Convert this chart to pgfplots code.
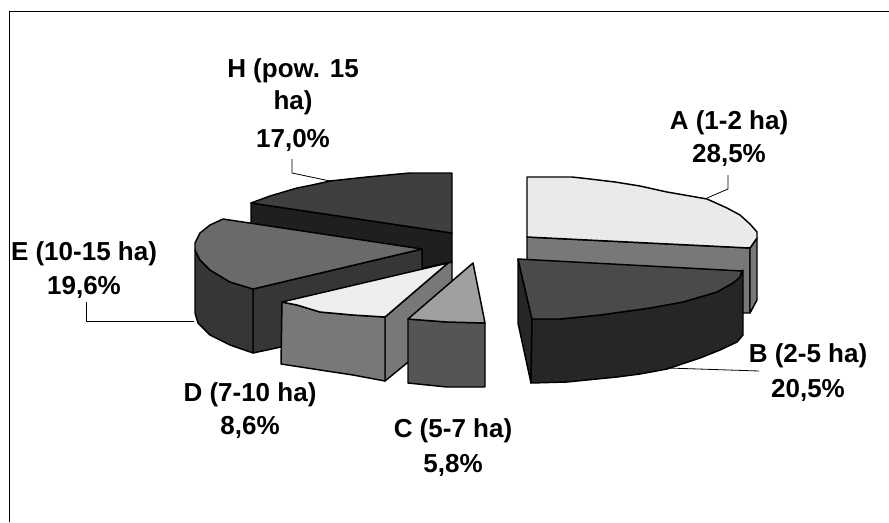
\documentclass[border=0pt]{standalone}
\usepackage{fontspec}
\setmainfont{Liberation Sans}
\usepackage{pgfplots}
\pgfplotsset{compat=1.18}

\definecolor{aTop}{HTML}{EAEAEA}
\definecolor{aSide}{HTML}{787878}
\definecolor{bTop}{HTML}{4A4A4A}
\definecolor{bSide}{HTML}{262626}
\definecolor{cTop}{HTML}{A0A0A0}
\definecolor{cSide}{HTML}{555555}
\definecolor{dTop}{HTML}{EEEEEE}
\definecolor{dSide}{HTML}{787878}
\definecolor{eTop}{HTML}{6A6A6A}
\definecolor{eSide}{HTML}{363636}
\definecolor{hTop}{HTML}{3F3F3F}
\definecolor{hSide}{HTML}{1F1F1F}

\begin{document}
\begin{tikzpicture}[
	lab/.style={font=\fontsize{19.5}{23}\selectfont\bfseries, inner sep=0pt, anchor=center},
]
	\begin{axis}[
	scale only axis,
	width=666.75pt, height=391.5pt,
	xmin=0, xmax=889,
	ymin=0, ymax=522,
	y dir=reverse,
	hide axis,
	clip=false,
	every axis plot/.append style={draw=black, line width=1.1pt, line join=round},
	]
	\path[use as bounding box] (axis cs:0,0) rectangle (axis cs:889,522);

	% frame, open on the right and at the bottom
	\addplot[line width=1.3pt, line cap=butt] coordinates {(9.5,522)(9.5,11.5)(889,11.5)};

	% H
	\addplot[fill=hSide] coordinates {(251,203)(452,233)(452,262)(423,268)(251,268)} --cycle;
	\addplot[fill=hTop] coordinates {(452,173)(410,173)(388,175)(367,177)(330,181)(312,185)(297,188)(270,196)(251,203)(452,233)} --cycle;

	% E
	\addplot[fill=eSide] coordinates {(253,289)(422,249)(423,320)(281,347)(253,353)} --cycle;
	\addplot[fill=eSide] coordinates {(195,250)(200,260)(210,270)(230,282)(253,289)(253,353)(230,345)(210,335)(198,323)(195,313)} --cycle;
	\addplot[fill=eTop] coordinates {(223,219)(422,249)(253,289)(230,282)(210,270)(200,260)(195,250)(195,243)(200,233)(210,225)} --cycle;

	% D
	\addplot[fill=dSide] coordinates {(385,317)(448,263)(452,262)(452,320)(407,363)(385,381)} --cycle;
	\addplot[fill=dSide] coordinates {(282,302)(297,305)(320,312)(353,315)(385,317)(385,381)(353,375)(320,370)(281,364)} --cycle;
	\addplot[fill=dTop] coordinates {(448,263)(282,302)(297,305)(320,312)(353,315)(385,317)} --cycle;

	% C
	\addplot[fill=cSide] coordinates {(408,319)(447,322)(485,323)(485,387)(447,387)(408,383)} --cycle;
	\addplot[fill=cTop] coordinates {(473,263)(485,323)(447,322)(408,319)} --cycle;

	% A
	\addplot[fill=aSide] coordinates {(527,237)(750,248)(750,313)(527,313)} --cycle;
	\addplot[fill=aSide] coordinates {(750,248)(757,238)(757,300)(750,313)} --cycle;
	\addplot[fill=aTop] coordinates {(527,177)(572,177)(590,179)(615,182)(640,186)(667,192)(690,196)(707,199)(727,208)(740,215)(750,224)(757,232)(757,238)(750,248)(527,237)} --cycle;

	% B
	\addplot[fill=bSide] coordinates {(518,259)(518,323)(531,383)(532,319)} --cycle;
	\addplot[fill=bSide] coordinates {(532,319)(560,319)(600,315)(650,308)(683,302)(717,292)(733,283)(740,277)(743,270)(743,335)(737,342)(720,350)(700,358)(667,369)(640,374)(617,377)(567,382)(531,383)} --cycle;
	\addplot[fill=bTop] coordinates {(518,259)(742,271)(740,277)(733,283)(717,292)(683,302)(650,308)(600,315)(560,319)(532,319)} --cycle;

	% leader lines
	\addplot[line width=0.6pt] coordinates {(728,175)(728,189)(707,198)};
	\addplot[line width=0.6pt] coordinates {(668,368)(759,371)};
	\addplot[line width=0.6pt] coordinates {(86,302)(86,321)(194,321)};
	\addplot[line width=0.6pt] coordinates {(292,159)(292,173)(330,181)};

	% labels
	\node[lab] at (axis cs:729,123) {A (1-2 ha)};
	\node[lab] at (axis cs:729,155) {28,5\%};
	\node[lab] at (axis cs:808,356) {B (2-5 ha)};
	\node[lab] at (axis cs:808,390) {20,5\%};
	\node[lab] at (axis cs:453,431) {C (5-7 ha)};
	\node[lab] at (axis cs:453,465) {5,8\%};
	\node[lab] at (axis cs:250,395) {D (7-10 ha)};
	\node[lab] at (axis cs:250,427) {8,6\%};
	\node[lab] at (axis cs:84,254) {E (10-15 ha)};
	\node[lab] at (axis cs:84,287) {19,6\%};
	\node[lab] at (axis cs:293,71) {H (pow. 15};
	\node[lab] at (axis cs:293,103) {ha)};
	\node[lab] at (axis cs:293,140) {17,0\%};
	\end{axis}
\end{tikzpicture}
\end{document}
